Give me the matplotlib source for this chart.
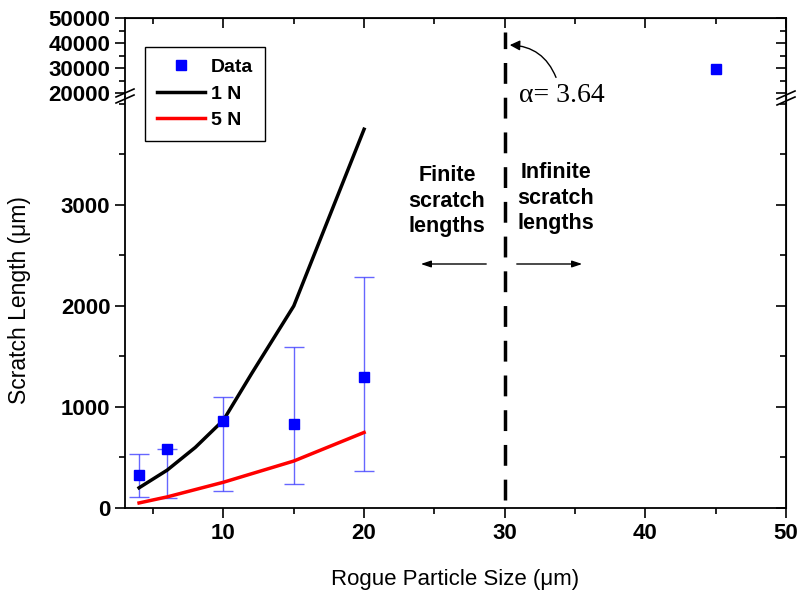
import numpy as np
import matplotlib
matplotlib.use("Agg")
import matplotlib.pyplot as plt
from matplotlib.lines import Line2D

plt.rcParams['font.family'] = ['Liberation Sans', 'DejaVu Sans']

# measured data (last point has no error bar)
size = [4, 6, 10, 15, 20, 45]
length = [330, 580, 860, 830, 1300, 29500]
err_lo = [220, 480, 690, 590, 930]
err_hi = [200, 0, 240, 760, 990]

# model curves
x_1n = [4, 6, 8, 10, 12, 15, 20]
y_1n = [200, 375, 600, 870, 1330, 2000, 3750]
x_5n = [4, 6, 10, 15, 20]
y_5n = [50, 110, 255, 465, 748]

alpha_x = 30

fig = plt.figure(figsize=(8, 5.93), dpi=100)
L, W = 125 / 800, 661 / 800
ax_top = fig.add_axes([L, 1 - 97 / 593, W, 79 / 593])
ax = fig.add_axes([L, 1 - 508 / 593, W, 411 / 593])

blue = '#0000ff'
n_err = len(err_lo)
for a in (ax, ax_top):
    a.errorbar(size[:n_err], length[:n_err], yerr=[err_lo, err_hi], fmt='none',
               ecolor=(0.25, 0.25, 1.0, 0.8), elinewidth=1, capsize=7,
               capthick=1, zorder=2)
    a.plot(size, length, 's', color=blue, ms=7.5, zorder=3)
    a.plot(x_1n, y_1n, color='black', lw=2.5)
    a.plot(x_5n, y_5n, color='red', lw=2.5)
    a.set_xlim(3, 50)
    a.tick_params(axis='both', which='major', direction='out', length=7,
                  width=1.2, labelsize=16)
    a.tick_params(axis='both', which='minor', direction='out', length=4,
                  width=1.2)
    for s in a.spines.values():
        s.set_linewidth(1.3)

ax.set_ylim(0, 4069)
ax.set_yticks([0, 1000, 2000, 3000])
ax.set_yticks(np.arange(500, 4001, 500), minor=True)
ax.set_xticks([10, 20, 30, 40, 50])
ax.set_xticks([5, 15, 25, 35, 45], minor=True)
ax.spines['top'].set_visible(False)
for lab in ax.get_xticklabels() + ax.get_yticklabels():
    lab.set_fontweight('bold')

ax_top.set_ylim(18400, 50000)
ax_top.set_yticks([20000, 30000, 40000, 50000])
ax_top.set_yticks([25000, 35000, 45000], minor=True)
ax_top.set_xticks([10, 20, 30, 40, 50])
ax_top.set_xticks([5, 15, 25, 35, 45], minor=True)
ax_top.spines['bottom'].set_visible(False)
ax_top.tick_params(axis='x', which='both', bottom=False, labelbottom=False)
for lab in ax_top.get_yticklabels():
    lab.set_fontweight('bold')

# mirrored inward ticks on top and right
sx = ax_top.secondary_xaxis('top')
sx.set_xticks([10, 20, 30, 40, 50])
sx.set_xticks([5, 15, 25, 35, 45], minor=True)
sx.tick_params(which='major', direction='in', length=7, width=1.2, labeltop=False)
sx.tick_params(which='minor', direction='in', length=4, width=1.2)
for a, maj, mnr in ((ax, [0, 1000, 2000, 3000], np.arange(500, 4001, 500)),
                    (ax_top, [20000, 30000, 40000, 50000], [25000, 35000, 45000])):
    sy = a.secondary_yaxis('right')
    sy.set_yticks(maj)
    sy.set_yticks(mnr, minor=True)
    sy.tick_params(which='major', direction='in', length=7, width=1.2, labelright=False)
    sy.tick_params(which='minor', direction='in', length=4, width=1.2)

ax.set_xlabel('Rogue Particle Size (\u03bcm)', fontsize=16, labelpad=18)
fig.text(20 / 800, 1 - 300 / 593, 'Scratch Length (\u03bcm)', rotation=90,
         fontsize=16.5, ha='center', va='center')

# dashed alpha line across both panels
xf = L + W * (alpha_x - 3) / 47
fig.add_artist(Line2D([xf, xf], [1 - 500 / 593, 1 - 32 / 593], transform=fig.transFigure,
                      color='black', lw=2.5, dashes=(6, 4)))

# break marks
for xb, yb in ((125, 96), (786, 98)):
    for dy in (-3, 3):
        fig.add_artist(Line2D([(xb - 9) / 800, (xb + 9) / 800],
                              [1 - (yb + dy + 4) / 593, 1 - (yb + dy - 4) / 593],
                              transform=fig.transFigure, color='black', lw=1.2))

fig.text(519 / 800, 1 - 96 / 593, '\u03b1= 3.64', fontsize=20,
         family='Liberation Serif', ha='left', va='center')
fig.add_artist(matplotlib.patches.FancyArrowPatch(
    (557 / 800, 1 - 80 / 593), (507 / 800, 1 - 45 / 593), transform=fig.transFigure,
    connectionstyle='arc3,rad=0.35', arrowstyle='-|>,head_length=6,head_width=3',
    color='black', lw=1))

fig.text(447 / 800, 1 - 201 / 593, 'Finite\nscratch\nlengths', fontsize=15.5,
         fontweight='bold', ha='center', va='center', linespacing=1.3)
fig.text(556 / 800, 1 - 198 / 593, 'Infinite\nscratch\nlengths', fontsize=15.5,
         fontweight='bold', ha='center', va='center', linespacing=1.3)
ax.annotate('', xy=(418 / 800, 1 - 264 / 593), xytext=(489 / 800, 1 - 264 / 593),
            xycoords='figure fraction', textcoords='figure fraction',
            arrowprops=dict(arrowstyle='-|>,head_length=0.6,head_width=0.2', color='black', lw=1))
ax.annotate('', xy=(585 / 800, 1 - 264 / 593), xytext=(514 / 800, 1 - 264 / 593),
            xycoords='figure fraction', textcoords='figure fraction',
            arrowprops=dict(arrowstyle='-|>,head_length=0.6,head_width=0.2', color='black', lw=1))

handles = [Line2D([], [], ls='none', marker='s', color=blue, ms=7.5),
           Line2D([], [], color='black', lw=2.5),
           Line2D([], [], color='red', lw=2.5)]
leg = fig.legend(handles, ['Data', '1 N', '5 N'], loc='upper left',
                 bbox_to_anchor=(145 / 800, 1 - 47 / 593), borderaxespad=0,
                 fancybox=False, edgecolor='black', framealpha=1,
                 prop={'weight': 'bold', 'size': 14}, handlelength=2.5,
                 labelspacing=0.45, borderpad=0.6, handletextpad=0.3)
leg.get_frame().set_linewidth(1)

fig.savefig('out.png', dpi=100)
